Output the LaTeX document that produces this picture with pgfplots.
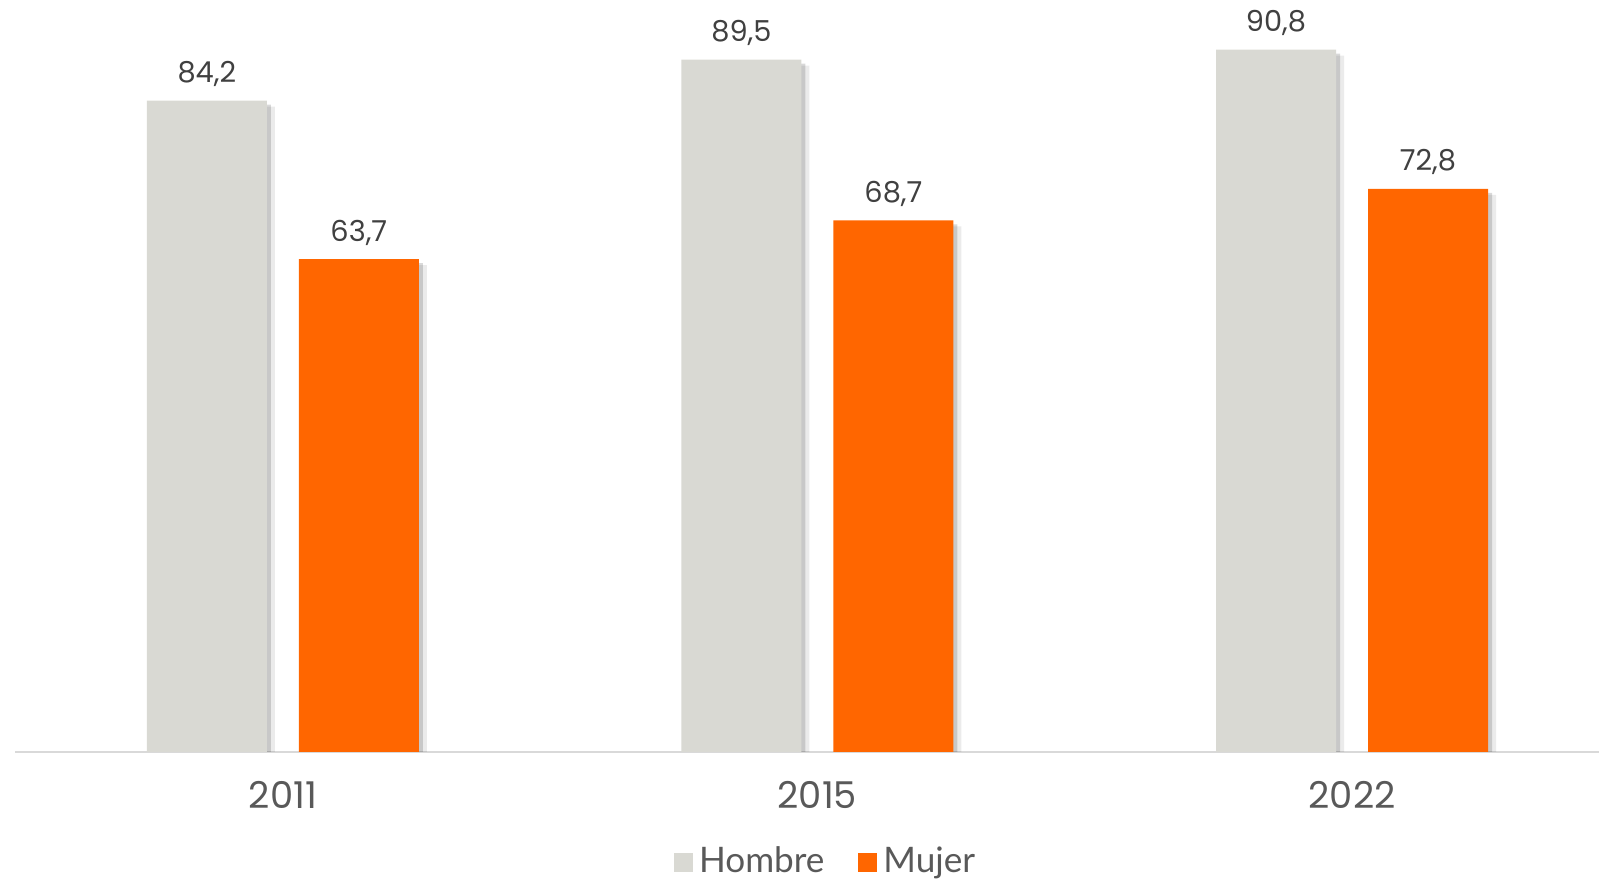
\documentclass[border=0pt]{standalone}
\usepackage{pgfplots}
\pgfplotsset{compat=1.18}
\usepackage{pgfplotstable}
\usepackage{fontspec}
\setmainfont{Poppins}
\newfontfamily\legfont{Lato}
\definecolor{hombre}{HTML}{D9D9D3}
\definecolor{mujer}{HTML}{FF6600}
\definecolor{txtdark}{HTML}{404040}
\definecolor{txtgray}{HTML}{595959}
\definecolor{axisgray}{HTML}{D9D9D9}

\pgfplotstableread{
x hombre mujer
0 84.2 63.7
1 89.5 68.7
2 90.8 72.8
}\datos

\begin{document}
\begin{tikzpicture}
\useasboundingbox (0,0) rectangle (15.99cm,8.84cm);
\begin{axis}[
  at={(0.15cm,1.32cm)}, anchor=south west,
  width=15.84cm, height=7.52cm, scale only axis,
  ybar, bar width=1.2cm,
  xmin=-0.501, xmax=2.462, ymin=0, ymax=97.2,
  enlargelimits=false,
  axis y line=none,
  axis x line*=bottom,
  x axis line style={draw=axisgray, line width=0.02cm, -},
  xtick=data, xticklabels={2011,2015,2022},
  major tick length=0pt,
  /pgf/number format/assume math mode=true,
  xticklabel style={font=\fontsize{10.5}{12}\selectfont, text=txtgray,
    anchor=north, inner sep=0pt, yshift=-0.29cm},
  nodes near coords,
  nodes near coords style={font=\fontsize{8.2}{10}\selectfont, text=txtdark,
    anchor=base, inner sep=0pt, yshift=0.18cm,
    /pgf/number format/.cd, fixed, fixed zerofill, precision=1, use comma},
  legend columns=2,
  legend style={at={(0.513,-0.147)}, anchor=center, draw=none, fill=none,
    font=\legfont\fontsize{10}{12}\selectfont, text=txtgray, inner sep=0pt,
    nodes={inner sep=0.06cm},
    /tikz/every even column/.append style={column sep=0.28cm}},
]
% soft shadows on the right side of each bar
\addplot[draw=none, fill=black, fill opacity=0.08, bar shift=-0.68cm, yshift=-0.06cm,
  nodes near coords=\empty, forget plot] table[x=x, y=hombre] {\datos};
\addplot[draw=none, fill=black, fill opacity=0.15, bar shift=-0.72cm, yshift=-0.04cm,
  nodes near coords=\empty, forget plot] table[x=x, y=hombre] {\datos};
\addplot[draw=none, fill=black, fill opacity=0.08, bar shift=0.84cm, yshift=-0.06cm,
  nodes near coords=\empty, forget plot] table[x=x, y=mujer] {\datos};
\addplot[draw=none, fill=black, fill opacity=0.15, bar shift=0.80cm, yshift=-0.04cm,
  nodes near coords=\empty, forget plot] table[x=x, y=mujer] {\datos};
% bars
\addplot[draw=none, fill=hombre, bar shift=-0.76cm,
  legend image code/.code={\fill[hombre] (0cm,-0.095cm) rectangle (0.19cm,0.095cm);}]
  table[x=x, y=hombre] {\datos};
\addlegendentry{Hombre}
\addplot[draw=none, fill=mujer, bar shift=0.76cm,
  legend image code/.code={\fill[mujer] (0cm,-0.095cm) rectangle (0.19cm,0.095cm);}]
  table[x=x, y=mujer] {\datos};
\addlegendentry{Mujer}
\end{axis}
\end{tikzpicture}
\end{document}
